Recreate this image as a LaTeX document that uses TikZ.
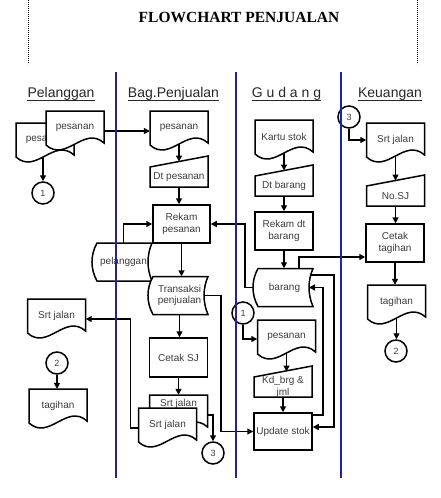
\documentclass[tikz,border=0pt]{standalone}
\usepackage{fontspec}
\setmainfont{Liberation Sans}
\newfontfamily\titlefont{Liberation Serif}
\usetikzlibrary{arrows.meta,calc}
\definecolor{lanecol}{RGB}{35,35,155}
\definecolor{txtcol}{RGB}{60,60,60}
\tikzset{
  outl/.style={draw=black, line width=1.5pt, fill=white, line join=miter},
  lbl/.style={inner sep=0pt, text=txtcol, align=center, font=\fontsize{10}{11.5}\selectfont},
  procbox/.style={outl, lbl, minimum width=58pt, minimum height=38pt},
  conn/.style={line width=1.5pt, -{Triangle[length=6pt,width=6pt]}},
  conbubble/.style={circle, draw, line width=1.5pt, minimum size=22pt, inner sep=0pt, text=txtcol, font=\fontsize{9}{10}\selectfont},
  lane/.style={draw=lanecol, line width=2pt},
  hdr/.style={inner sep=0pt, font=\fontsize{14}{16}\selectfont, text=black!85, anchor=base},
  uline/.style={line width=0.9pt, black!85},
  docu/.pic={
    \path[outl] (-29,-17) -- (29,-17) -- (29,15) .. controls (9,-3) and (-9,35) .. (-29,17) -- cycle;
    \node[lbl, minimum width=58pt, minimum height=34pt] (-n) at (0,0) {#1};
    \coordinate (-bot) at (0,16);
  },
  docuhi/.pic={
    \path[outl] (-29,-17) -- (29,-17) -- (29,15) .. controls (9,-3) and (-9,35) .. (-29,17) -- cycle;
    \node[lbl, minimum width=58pt, minimum height=18pt] (-n) at (0,-8) {#1};
    \coordinate (-bot) at (0,16);
  },
  manin/.pic={
    \path[outl] (-29,-10) -- (29,-21) -- (29,10) -- (-29,10) -- cycle;
    \node[lbl, minimum width=58pt, minimum height=20pt] (-n) at (0,0) {#1};
    \coordinate (-top) at (0,-15.5);
  },
  stored/.pic={
    \path[outl] (-27.5,-19) -- (27.5,-19) .. controls (22.2,-7) and (22.2,7) .. (27.5,19) -- (-27.5,19) .. controls (-34.2,7) and (-34.2,-7) .. cycle;
    \node[lbl, minimum width=55pt, minimum height=38pt] (-n) at (-1,0) {#1};
    \coordinate (-left) at (-32.5,0);
    \coordinate (-right) at (23.5,0);
  }
}
\begin{document}
\begin{tikzpicture}[x=1pt,y=-1pt]
\useasboundingbox (0,0) rectangle (441,498);

% title and page marks
\node[inner sep=0pt, font={\titlefont\bfseries\fontsize{15.5}{18}\selectfont}] (title) at (239,17.5) {FLOWCHART PENJUALAN};
\draw[line width=0.7pt, dash pattern=on 0.9pt off 1.1pt] (28,0) -- (28,64);
\draw[line width=0.7pt, dash pattern=on 0.9pt off 1.1pt] (417,0) -- (417,64);

% lane headers
\node[hdr] (h1) at (61,97.5) {Pelanggan};
\node[hdr] (h2) at (173.5,97.5) {Bag.Penjualan};
\node[hdr] (h3) at (286.5,97.5) {G u d a n g};
\node[hdr] (h4) at (390,97.5) {Keuangan};
\foreach \h in {h1,h2,h3,h4}
  \draw[uline] ([yshift=-2.5pt]\h.base west) -- ([yshift=-2.5pt]\h.base east);

% Pelanggan
\pic (pbk) at (45,140) {docu=pesanan};
\pic (pfr) at (75,128) {docu=pesanan};
\node[conbubble] (pc1) at (43,193) {1};
\pic (psj) at (56.5,316) {docu={Srt jalan}};
\node[conbubble] (pc2) at (57,363) {2};
\pic (ptg) at (58,406) {docu=tagihan};

% Bag. Penjualan
\pic (bps) at (179,128) {docu=pesanan};
\pic (bdt) at (179,177) {manin={Dt pesanan}};
\node[procbox, minimum width=57pt] (brp) at (181.5,224) {Rekam\\pesanan};
\pic (bpl) at (124.5,262) {stored=pelanggan};
\pic (btr) at (180.5,295.5) {stored={Transaksi\\penjualan}};
\node[procbox, minimum height=39pt] (bcs) at (178.5,357.5) {Cetak SJ};
\pic (bsb) at (178.5,412) {docuhi={Srt jalan}};
\pic (bsf) at (167.5,425) {docu={Srt jalan}};
\node[conbubble] (bc3) at (213,453) {3};

% Gudang
\pic (gks) at (284,137) {docu={Kartu stok}};
\pic (gdb) at (284,186) {manin={Dt barang}};
\node[procbox] (grd) at (284,231) {Rekam dt\\barang};
\pic (gbr) at (285.5,287.5) {stored=barang};
\node[conbubble] (gc1) at (243,313) {1};
\pic (gps) at (286.5,337) {docu=pesanan};
\pic (gkd) at (283,387) {manin={Kd\_brg \&\\jml}};
\node[procbox, minimum height=37pt] (gus) at (283,431.5) {Update stok};

% Keuangan
\node[conbubble] (kc3) at (349,117) {3};
\pic (ksj) at (395.5,140) {docu={Srt jalan}};
\pic (kno) at (395.5,196) {manin={No.SJ}};
\node[procbox] (kct) at (395,243) {Cetak\\tagihan};
\pic (ktg) at (396.5,302) {docu=tagihan};
\node[conbubble] (kc2) at (396,351) {2};

% connectors - Pelanggan
\draw[conn] (pbk-n.south -| pc1) -- (pc1);
\draw[conn] ([yshift=-3pt]pfr-n.east) -- ([yshift=-3pt]bps-n.west);
\draw[conn] (pc2.south) -- (pc2.south |- ptg-n.north);

% connectors - Bag. Penjualan
\draw[conn] (bps-bot) -- (bdt-top);
\draw[conn] (bdt-n.south) -- (bdt-n.south |- brp.north);
\draw[conn] (brp.south) -- (brp.south |- btr-n.north);
\draw[conn] (bpl-n.north) |- (brp.west);
\draw[conn] (btr-n.south) -- (btr-n.south |- bcs.north);
\draw[conn] (bcs.south) -- (bcs.south |- bsb-n.north);
\draw[conn] ([yshift=-11pt]bsb-n.east) -| (bc3);
\draw[conn] ([yshift=-3pt]bsf-n.west) -- ++(-8,0) |- ([yshift=-3pt]psj-n.east);
\draw[conn] (btr-right) -- ++(17,0) |- (gus.west);

% connectors - Gudang
\draw[conn] (gks-bot) -- (gdb-top);
\draw[conn] (gdb-n.south) -- (grd.north);
\draw[conn] (grd.south) -- (grd.south |- gbr-n.north);
\draw[conn] (gbr-left) -- ++(-8,0) |- (brp.east);
\draw[conn] ([xshift=14.5pt]gbr-n.north) |- ([yshift=-14pt]kct.west);
\draw[conn] ([yshift=16.5pt]gus.east) -- ++(10,0) |- (gbr-right);
\draw[conn] ($(gbr-n.north east)+(-1.5,6.5)$) -- ++(23.5,0) |- ([yshift=4.5pt]gus.east);
\draw[conn] (gc1) |- ([yshift=-2pt]gps-n.west);
\draw[conn] (gps-bot) -- (gps-bot |- gkd-top);
\draw[conn] (gkd-n.south) -- (gus.north);

% connectors - Keuangan
\draw[conn] (kc3) |- (ksj-n.west);
\draw[conn] (ksj-bot) -- (kno-top);
\draw[conn] (kno-n.south) -- (kno-n.south |- kct.north);
\draw[conn] (kct.south) -- (kct.south |- ktg-n.north);
\draw[conn] (ktg-bot) -- (ktg-bot |- kc2.north);

% swim lane separators
\draw[lane] (116,72) -- (116,478);
\draw[lane] (236,72) -- (236,478);
\draw[lane] (341,72) -- (341,478);
\end{tikzpicture}
\end{document}
